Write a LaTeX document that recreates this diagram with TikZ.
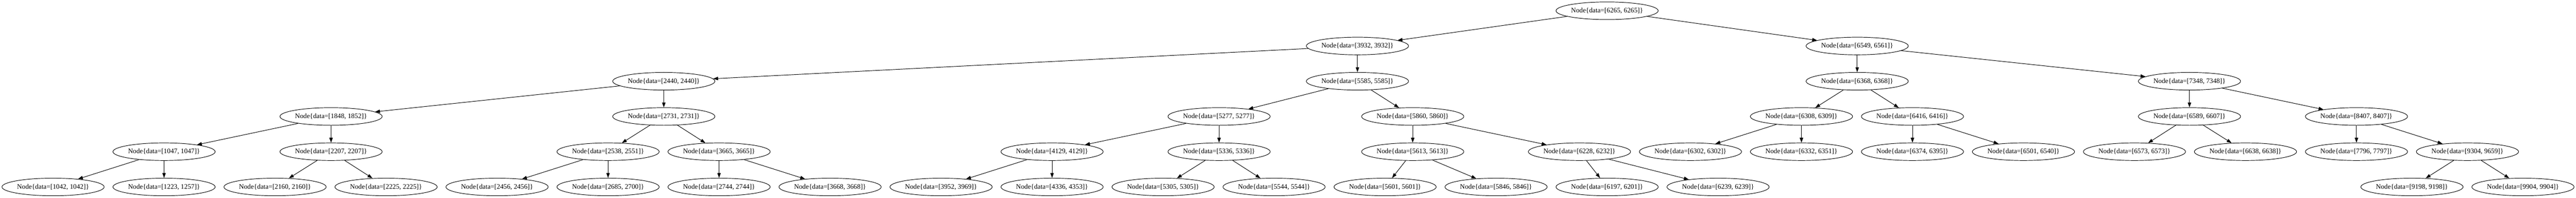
\documentclass[tikz,border=0pt]{standalone}
\usepackage{fontspec}
\setmainfont{Liberation Serif}
\usetikzlibrary{shapes.geometric,arrows.meta}
\tikzset{
  nd/.style={ellipse, draw, line width=1pt, minimum width=209pt, minimum height=36pt, inner sep=0pt, font=\fontsize{14}{16}\selectfont},
  edge/.style={line width=1pt, -{Triangle[length=10pt,width=7pt]}}
}
\begin{document}
\begin{tikzpicture}[x=1pt,y=-1pt]
\useasboundingbox (0,0) rectangle (5268,404.25);
\foreach \a/\b/\x/\y in {
 6265/6265/3286.5/22,
 3932/3932/2776/94, 6549/6561/3798/94,
 2440/2440/1357.5/166, 5585/5585/2776/166, 6368/6368/3798/166, 7348/7348/4477.5/166,
 1848/1852/677/238, 2731/2731/1357.5/238, 5277/5277/2493/238, 5860/5860/2889/238,
 6308/6309/3684/238, 6416/6416/3911/238, 6589/6607/4477.5/238, 8407/8407/4819/238,
 1047/1047/335.5/310, 2207/2207/677/310, 2538/2551/1243.5/310, 3665/3665/1470.5/310,
 4129/4129/2151.5/310, 5336/5336/2493/310, 5613/5613/2889/310, 6228/6232/3230/310,
 6302/6302/3457/310, 6332/6351/3684/310, 6374/6395/3911/310, 6501/6540/4138/310,
 6573/6573/4365/310, 6638/6638/4592/310, 7796/7797/4819/310, 9304/9659/5046/310,
 1042/1042/108.5/382, 1223/1257/335.5/382, 2160/2160/562.5/382, 2225/2225/789.5/382,
 2456/2456/1016.5/382, 2685/2700/1243.5/382, 2744/2744/1470.5/382, 3668/3668/1697.5/382,
 3952/3969/1924.5/382, 4336/4353/2151.5/382, 5305/5305/2378.5/382, 5544/5544/2605.5/382,
 5601/5601/2832.5/382, 5846/5846/3059.5/382, 6197/6201/3286.5/382, 6239/6239/3513.5/382,
 9198/9198/4932.5/382, 9904/9904/5159.5/382}
 {\node[nd] (n\a) at (\x,\y) {Node\{data=[\a, \b]\}};}
\foreach \p/\c in {
 6265/3932, 6265/6549,
 3932/2440, 3932/5585,
 6549/6368, 6549/7348,
 2440/1848, 2440/2731,
 5585/5277, 5585/5860,
 6368/6308, 6368/6416,
 7348/6589, 7348/8407,
 1848/1047, 1848/2207,
 2731/2538, 2731/3665,
 5277/4129, 5277/5336,
 5860/5613, 5860/6228,
 6308/6302, 6308/6332,
 6416/6374, 6416/6501,
 6589/6573, 6589/6638,
 8407/7796, 8407/9304,
 1047/1042, 1047/1223,
 2207/2160, 2207/2225,
 2538/2456, 2538/2685,
 3665/2744, 3665/3668,
 4129/3952, 4129/4336,
 5336/5305, 5336/5544,
 5613/5601, 5613/5846,
 6228/6197, 6228/6239,
 9304/9198, 9304/9904}
 {\draw[edge] (n\p) -- (n\c);}
\end{tikzpicture}
\end{document}
